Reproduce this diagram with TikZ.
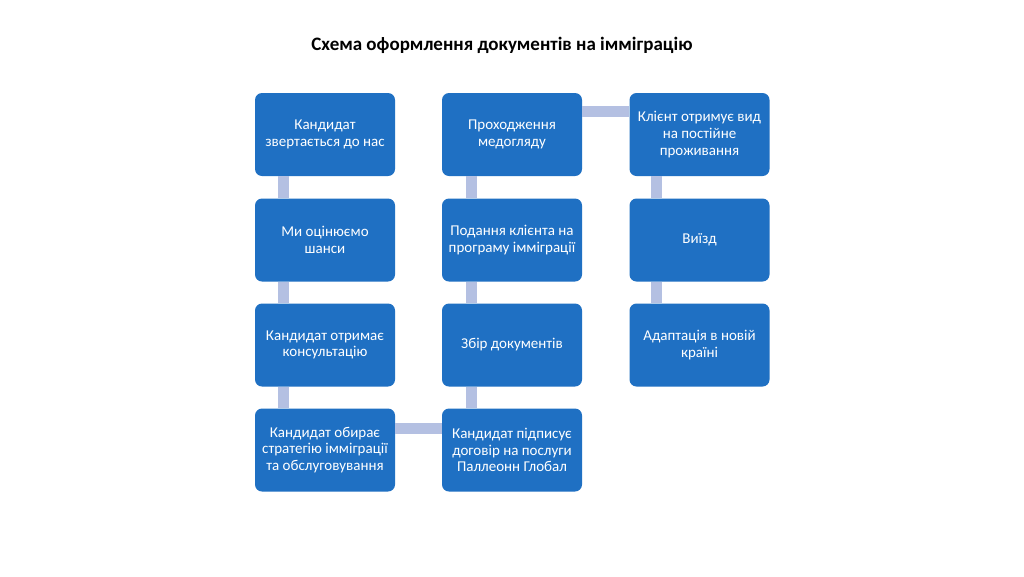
\documentclass[tikz,border=0pt]{standalone}
\usepackage{fontspec}
\setmainfont{Carlito}
\begin{document}
\begin{tikzpicture}[x=1pt,y=-1pt]
\definecolor{boxblue}{RGB}{31,112,195}
\definecolor{connblue}{RGB}{180,192,226}
\tikzset{
  stepbox/.style={draw=none, fill=boxblue, rounded corners=7pt, minimum width=140pt, minimum height=83pt, inner sep=0pt, text=white, align=center, font=\fontsize{15}{16.8}\selectfont},
  conn/.style={draw=connblue, line width=11pt}
}
\useasboundingbox (0,0) rectangle (1024,576);
\fill[white] (0,0) rectangle (1024,576);
\node[font=\bfseries\fontsize{19}{22}\selectfont] (title) at (502,45) {Схема оформлення документів на імміграцію};
\node[stepbox] (b1) at (325,134.5) {Кандидат\\звертається до нас};
\node[stepbox] (b2) at (325,240) {Ми оцінюємо\\шанси};
\node[stepbox] (b3) at (325,345) {Кандидат отримає\\консультацію};
\node[stepbox] (b4) at (325,450) {Кандидат обирає\\стратегію імміграції\\та обслуговування};
\node[stepbox] (b5) at (512,450) {Кандидат підписує\\договір на послуги\\Паллеонн Глобал};
\node[stepbox] (b6) at (512,345) {Збір документів};
\node[stepbox] (b7) at (512,240) {Подання клієнта на\\програму імміграції};
\node[stepbox] (b8) at (512,134.5) {Проходження\\медогляду};
\node[stepbox] (b9) at (699.5,134.5) {Клієнт отримує вид\\на постійне\\проживання};
\node[stepbox] (b10) at (699.5,240) {Виїзд};
\node[stepbox] (b11) at (699.5,345) {Адаптація в новій\\країні};
\draw[conn] ([xshift=28.5pt]b1.south west) -- ([xshift=28.5pt]b2.north west);
\draw[conn] ([xshift=28.5pt]b2.south west) -- ([xshift=28.5pt]b3.north west);
\draw[conn] ([xshift=28.5pt]b3.south west) -- ([xshift=28.5pt]b4.north west);
\draw[conn] ([yshift=-20pt]b4.north east) -- ([yshift=-20pt]b5.north west);
\draw[conn] ([xshift=29.5pt]b5.north west) -- ([xshift=29.5pt]b6.south west);
\draw[conn] ([xshift=29.5pt]b6.north west) -- ([xshift=29.5pt]b7.south west);
\draw[conn] ([xshift=29.5pt]b7.north west) -- ([xshift=29.5pt]b8.south west);
\draw[conn] ([yshift=-19pt]b8.north east) -- ([yshift=-19pt]b9.north west);
\draw[conn] ([xshift=27pt]b9.south west) -- ([xshift=27pt]b10.north west);
\draw[conn] ([xshift=27pt]b10.south west) -- ([xshift=27pt]b11.north west);
\end{tikzpicture}
\end{document}
